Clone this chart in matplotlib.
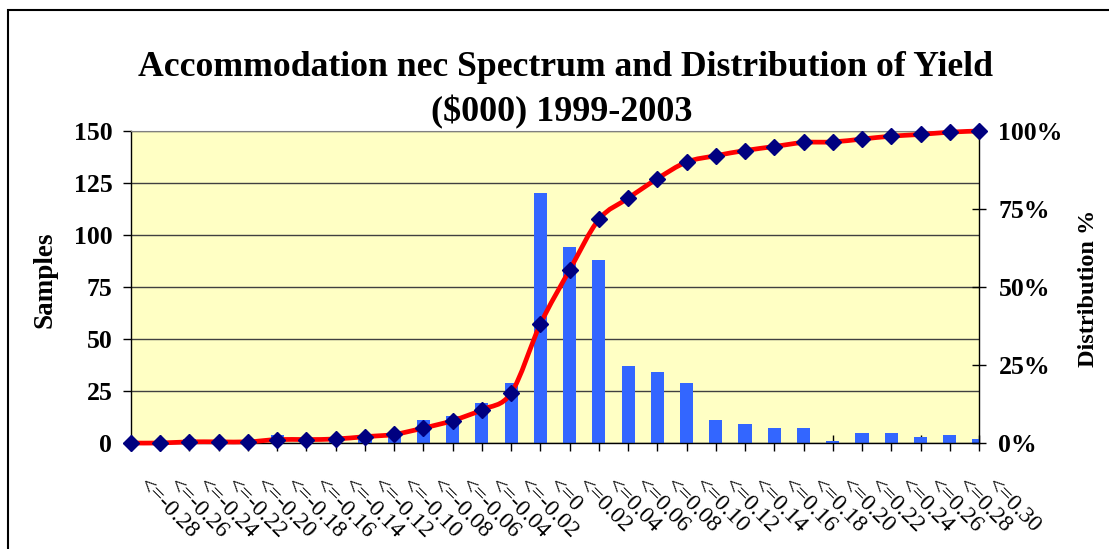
import numpy as np
import matplotlib
matplotlib.use('Agg')
import matplotlib.pyplot as plt
from matplotlib.path import Path
from matplotlib.patches import PathPatch, Rectangle
from matplotlib import transforms
from matplotlib.ticker import FuncFormatter

# ---- data ----
categories = ["<=-0.28", "<=-0.26", "<=-0.24", "<=-0.22", "<=-0.20", "<=-0.18",
              "<=-0.16", "<=-0.14", "<=-0.12", "<=-0.10", "<=-0.08", "<=-0.06",
              "<=-0.04", "<=-0.02", "<=0", "<=0.02", "<=0.04", "<=0.06", "<=0.08",
              "<=0.10", "<=0.12", "<=0.14", "<=0.16", "<=0.18", "<=0.20", "<=0.22",
              "<=0.24", "<=0.26", "<=0.28", "<=0.30"]
samples = [0, 0, 2, 0, 0, 4, 0, 1, 4, 4, 11, 13, 19, 29, 120, 94, 88, 37, 34, 29,
           11, 9, 7, 7, 1, 5, 5, 3, 4, 2]
left_ticks = [0, 25, 50, 75, 100, 125, 150]
right_ticks = [0, 0.25, 0.5, 0.75, 1.0]
title_line1 = "Accommodation nec Spectrum and Distribution of Yield"
title_line2 = "($000) 1999-2003"
ylabel_left = "Samples"
ylabel_right = "Distribution %"

plt.rcParams['font.family'] = ['Liberation Serif', 'DejaVu Serif']

W, H = 1109, 549
fig = plt.figure(figsize=(W / 100, H / 100), dpi=100)
fig.patch.set_facecolor('white')

# outer frame
fig.add_artist(Rectangle((8 / W, -0.2), 1.5, 1.2 - 10 / H, transform=fig.transFigure,
                         fill=False, edgecolor='black', lw=1.5, clip_on=False))

L, R, T, B = 131, 979, 131, 443
ax = fig.add_axes([L / W, 1 - B / H, (R - L) / W, (B - T) / H])
ax.set_facecolor('#FFFFC4')

x = np.arange(len(categories))
ax.bar(x, samples, width=0.45, color='#3366FF', zorder=2)
ax.set_xlim(0, len(categories) - 1)
ax.set_ylim(0, 150)
ax.set_yticks(left_ticks)
ax.yaxis.grid(True, color='#404040', lw=1)
ax.set_axisbelow(True)
ax.set_xticks(x)
ax.set_xticklabels([])
ax.tick_params(axis='x', direction='inout', length=11, width=1, color='black')
ax.tick_params(axis='y', direction='out', length=5.5, width=1, pad=8, labelsize=18.5)
for lab in ax.get_yticklabels():
    lab.set_fontweight('bold')
for s in ['left', 'bottom']:
    ax.spines[s].set_color('black')
    ax.spines[s].set_linewidth(1)
ax.spines['top'].set_color('#808080')
ax.spines['top'].set_linewidth(0.8)
ax.spines['right'].set_visible(False)

# x tick labels (rotated, offset like the original)
trans = transforms.blended_transform_factory(ax.transData, ax.transAxes) + \
    transforms.ScaledTranslation(0.185, -0.32, fig.dpi_scale_trans)
for i, lab in zip(x, categories):
    ax.text(i, 0, lab, transform=trans, rotation=-45, rotation_mode='anchor',
            ha='left', va='top', fontsize=17)

# cumulative distribution on secondary axis
ax2 = ax.twinx()
counts = np.array(samples, dtype=float)
cum = np.cumsum(counts) / counts.sum()
P = np.column_stack([x, cum])
n = len(P)
verts = [P[0]]
codes = [Path.MOVETO]
for i in range(n - 1):
    p_prev = P[i - 1] if i > 0 else P[i]
    p_next2 = P[i + 2] if i + 2 < n else P[i + 1]
    c1 = P[i] + (P[i + 1] - p_prev) / 6.0
    c2 = P[i + 1] - (p_next2 - P[i]) / 6.0
    verts += [c1, c2, P[i + 1]]
    codes += [Path.CURVE4] * 3
ax2.add_patch(PathPatch(Path(verts, codes), facecolor='none', edgecolor='#FF0000',
                        lw=3.4, clip_on=False, zorder=3, capstyle='round', joinstyle='round'))
ax2.plot(x, cum, linestyle='none', marker='D', ms=8, color='#000080',
         clip_on=False, zorder=4)
ax2.set_xlim(0, len(categories) - 1)
ax2.set_ylim(0, 1)
ax2.set_yticks(right_ticks)
ax2.yaxis.set_major_formatter(FuncFormatter(lambda v, p: f"{v * 100:.0f}%"))
ax2.tick_params(axis='y', direction='inout', length=10, width=1, pad=9, labelsize=18.5)
for lab in ax2.get_yticklabels():
    lab.set_fontweight('bold')
ax2.spines['right'].set_color('black')
ax2.spines['right'].set_linewidth(1)
for s in ['left', 'top', 'bottom']:
    ax2.spines[s].set_visible(False)

# titles and axis labels
fig.text(566 / W, 1 - 67 / H, title_line1, ha='center', va='center',
         fontsize=25.7, fontweight='bold')
fig.text(562 / W, 1 - 112 / H, title_line2, ha='center', va='center',
         fontsize=26, fontweight='bold')
fig.text(45 / W, 1 - 280 / H, ylabel_left, rotation=90, ha='center', va='center',
         fontsize=19.5, fontweight='bold')
fig.text(1088 / W, 1 - 288 / H, ylabel_right, rotation=90, ha='center', va='center',
         fontsize=17.5, fontweight='bold')

fig.savefig('out.png', dpi=100, facecolor='white')
